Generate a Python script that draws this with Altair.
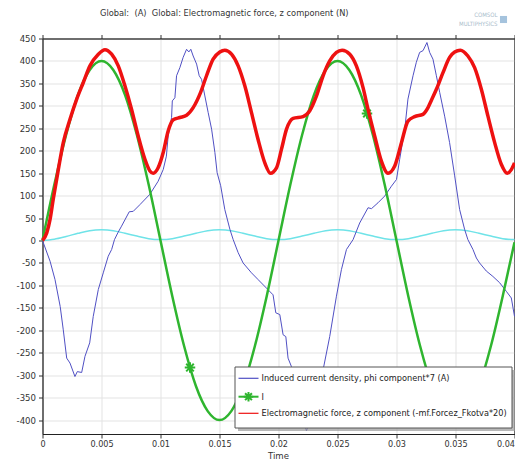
import altair as alt
import pandas as pd

# ---------------- data ----------------
x_ticks = [0, 0.005, 0.01, 0.015, 0.02, 0.025, 0.03, 0.035, 0.04]
y_ticks = [-400, -350, -300, -250, -200, -150, -100, -50, 0, 50, 100, 150,
           200, 250, 300, 350, 400, 450]

grid_t = [0, 0.001, 0.002, 0.003, 0.004, 0.005, 0.006, 0.007, 0.008, 0.009,
          0.01, 0.011, 0.012, 0.013, 0.014, 0.015, 0.016, 0.017, 0.018, 0.019,
          0.02, 0.021, 0.022, 0.023, 0.024, 0.025, 0.026, 0.027, 0.028, 0.029,
          0.03, 0.031, 0.032, 0.033, 0.034, 0.035, 0.036, 0.037, 0.038, 0.039, 0.04]

green_i = [0, 124, 235, 324, 380, 400, 380, 324, 235, 124,
           0, -124, -235, -324, -380, -400, -380, -324, -235, -124,
           0, 124, 235, 324, 380, 400, 380, 324, 235, 124,
           0, -124, -235, -324, -380, -400, -380, -324, -235, -124, -4]

cyan_v = [0, 3, 9, 16, 22, 24, 22, 16, 10, 4,
          2, 4, 10, 16, 22, 24, 22, 16, 10, 4,
          2, 4, 10, 16, 22, 24, 22, 16, 10, 4,
          2, 4, 10, 16, 22, 24, 22, 16, 10, 4, 2]

marker_t = [0.0125, 0.0275]
marker_v = [-283, 283]

blue_t = [0, 0.00064, 0.00106, 0.0015, 0.00176, 0.00205, 0.00233, 0.00275, 0.00295,
          0.00332, 0.0036, 0.004, 0.0043, 0.00473, 0.00515, 0.00557, 0.00586, 0.0061,
          0.0064, 0.0067, 0.00735, 0.00769, 0.00826, 0.0091, 0.0098, 0.01023, 0.0105,
          0.01065, 0.01094, 0.011, 0.01122, 0.01136, 0.01164, 0.01192, 0.01221, 0.0124,
          0.01257, 0.01277, 0.01306, 0.01328, 0.01348, 0.01376, 0.01404, 0.01433,
          0.01461, 0.0148, 0.0151, 0.01545, 0.01588, 0.01616, 0.01658, 0.017, 0.01771,
          0.01827, 0.01898, 0.01954, 0.01977, 0.02011, 0.02039, 0.02062, 0.02081,
          0.0211, 0.0216, 0.0221, 0.02237, 0.0227, 0.0232, 0.02378, 0.02434, 0.02491,
          0.02533, 0.02576, 0.02632, 0.02688, 0.02759, 0.02788, 0.02843, 0.029,
          0.02957, 0.03, 0.03027, 0.0307, 0.03097, 0.0314, 0.03168, 0.03196, 0.03225,
          0.03258, 0.03281, 0.03309, 0.03338, 0.03366, 0.03408, 0.0345, 0.03493,
          0.03535, 0.03577, 0.03605, 0.03648, 0.03677, 0.03704, 0.03761, 0.03817,
          0.03874, 0.0393, 0.03973, 0.04]
blue_v = [0, -46, -87, -147, -199, -262, -273, -303, -292,
          -294, -258, -228, -169, -109, -72, -35, -20, 2,
          18, 32, 64, 65, 80, 103, 132, 158, 188,
          233, 274, 311, 318, 367, 385, 408, 426, 420,
          426, 411, 393, 367, 359, 322, 285, 248,
          196, 151, 122, 69, 25, 2, -27, -50, -72,
          -87, -106, -121, -161, -165, -210, -214, -262,
          -281, -340, -400, -424, -400, -330, -288, -214, -124,
          -65, -20, 2, 39, 73, 71, 84, 99,
          121, 136, 181, 248, 315, 367, 397, 419, 423,
          441, 419, 404, 367, 330, 277, 218, 144,
          69, 25, 2, -20, -39, -50, -68, -80,
          -94, -113, -128, -169]

red_t = [0, 0.00036, 0.00064, 0.00091, 0.00134, 0.00176, 0.00233, 0.0029, 0.00346,
         0.00402, 0.00473, 0.00529, 0.00586, 0.00642, 0.00699, 0.00755, 0.00811,
         0.00868, 0.0091, 0.00938, 0.0098, 0.01023, 0.01065, 0.01108, 0.01164,
         0.01221, 0.01277, 0.0134, 0.0139, 0.01446, 0.01503, 0.01545, 0.01602,
         0.01658, 0.01715, 0.01771, 0.01827, 0.01884, 0.01932, 0.01983, 0.02025,
         0.02068, 0.02124, 0.02208, 0.02265, 0.02322, 0.02378, 0.02434, 0.02491,
         0.02539, 0.02604, 0.0266, 0.02716, 0.02759, 0.02815, 0.02872, 0.02928,
         0.02985, 0.03042, 0.03097, 0.03154, 0.03224, 0.03267, 0.03295, 0.03338,
         0.03394, 0.0345, 0.03493, 0.03541, 0.03605, 0.03662, 0.03719, 0.03775,
         0.03832, 0.03888, 0.03939, 0.03973, 0.04]
red_v = [0, 17, 47, 92, 158, 218, 270, 315, 352,
         389, 415, 425, 415, 389, 344, 292, 233,
         181, 155, 150, 162, 196, 244, 269, 274,
         279, 296, 330, 367, 404, 420, 424, 415,
         389, 344, 285, 225, 173, 150, 162, 203,
         248, 272, 276, 289, 322, 367, 400, 419,
         424, 415, 389, 341, 292, 233, 177, 150,
         166, 218, 266, 276, 281, 296, 312, 337,
         374, 408, 420, 424, 411, 385, 337, 277,
         218, 170, 150, 158, 173]

legend_labels = ["Induced current density, phi component*7 (A)",
                 "I",
                 "Electromagnetic force, z component (-mf.Forcez_Fkotva*20)"]
title_text = "Global:\u00a0\u00a0(A)\u00a0\u00a0Global: Electromagnetic force, z component (N)"
x_title = "Time"

# ---------------- styling ----------------
FONT = "DejaVu Sans Condensed, Liberation Sans Narrow, Liberation Sans"
W, H = 472, 395.5
BLUE = "#5050c4"
GREEN = "#2fb52f"
RED = "#ee1111"
CYAN = "#6fe3e8"
STAR = "M0,-1L0,1M-1,0L1,0M-0.72,-0.72L0.72,0.72M-0.72,0.72L0.72,-0.72"

xscale = alt.Scale(domain=[0, 0.04], nice=False, zero=False)
yscale = alt.Scale(domain=[-431, 450], nice=False, zero=False)

common_axis = dict(tickSize=4, tickColor="#333", domainColor="#222",
                   labelFont=FONT, labelColor="#333",
                   gridColor="#e3e3e3", title=None)

x_bottom = alt.Axis(values=x_ticks, labelExpr="'' + datum.value",
                    grid=True, labelFlush=False, labelPadding=1.5, labelFontSize=9,
                    labelAlign=alt.ExprRef(expr="datum.value >= 0.04 ? 'right' : 'center'"),
                    labelOverlap=False, **common_axis)
y_left = alt.Axis(values=y_ticks, labelExpr="'' + datum.value", labelFontSize=9.5,
                  grid=True, labelPadding=3, labelOverlap=False, **common_axis)
x_top = alt.Axis(orient="top", values=x_ticks, labels=False,
                 grid=False, **common_axis)
y_right = alt.Axis(orient="right", values=y_ticks, labels=False,
                   grid=False, **common_axis)

cyan_df = pd.DataFrame({"t": grid_t, "v": cyan_v})
green_df = pd.DataFrame({"t": grid_t, "v": green_i})
mark_df = pd.DataFrame({"t": marker_t, "v": marker_v})
blue_df = pd.DataFrame({"t": blue_t, "v": blue_v})
red_df = pd.DataFrame({"t": red_t, "v": red_v})
one = pd.DataFrame({"k": [0]})

cyan = alt.Chart(cyan_df).mark_line(color=CYAN, strokeWidth=1.5, interpolate="monotone").encode(
    x=alt.X("t:Q", scale=xscale, axis=x_bottom),
    y=alt.Y("v:Q", scale=yscale, axis=y_left))
mirror = alt.Chart(cyan_df).mark_line(opacity=0).encode(
    x=alt.X("t:Q", scale=xscale, axis=x_top),
    y=alt.Y("v:Q", scale=yscale, axis=y_right))
blue = alt.Chart(blue_df).mark_line(color=BLUE, strokeWidth=1).encode(
    x=alt.X("t:Q", scale=xscale, axis=None),
    y=alt.Y("v:Q", scale=yscale, axis=None))
green = alt.Chart(green_df).mark_line(color=GREEN, strokeWidth=2.5, interpolate="monotone").encode(
    x=alt.X("t:Q", scale=xscale, axis=None),
    y=alt.Y("v:Q", scale=yscale, axis=None))
stars = alt.Chart(mark_df).mark_point(shape=STAR, size=110, filled=False, color=GREEN,
                                      strokeWidth=2, opacity=1).encode(
    x=alt.X("t:Q", scale=xscale, axis=None),
    y=alt.Y("v:Q", scale=yscale, axis=None))
red = alt.Chart(red_df).mark_line(color=RED, strokeWidth=3.5, interpolate="monotone").encode(
    x=alt.X("t:Q", scale=xscale, axis=None),
    y=alt.Y("v:Q", scale=yscale, axis=None))

# legend box (drawn with marks)
LX0, LX1, LY0, LY1 = 192.5, 469.5, 328.5, 389.5
shadow = alt.Chart(one).mark_rect(color="#9a9a9a", opacity=0.7).encode(
    x=alt.value(LX0 + 3), x2=alt.value(LX1 + 3), y=alt.value(LY0 + 3), y2=alt.value(LY1 + 3))
box = alt.Chart(one).mark_rect(fill="white", stroke="#555", strokeWidth=1).encode(
    x=alt.value(LX0), x2=alt.value(LX1), y=alt.value(LY0), y2=alt.value(LY1))
row_y = [339.8, 358.2, 374.8]
row_col = [BLUE, GREEN, RED]
row_w = [1.2, 2, 1.2]
legend_layers = [shadow, box]
for lab, yy, col, sw in zip(legend_labels, row_y, row_col, row_w):
    legend_layers.append(alt.Chart(one).mark_rule(color=col, strokeWidth=sw).encode(
        x=alt.value(196), x2=alt.value(216), y=alt.value(yy)))
    legend_layers.append(alt.Chart(one).mark_text(align="left", baseline="middle", font=FONT,
                                                  fontSize=9.1, color="#222").encode(
        x=alt.value(219), y=alt.value(yy), text=alt.value(lab)))
legend_layers.append(alt.Chart(one).mark_point(shape=STAR, size=90, filled=False, color=GREEN,
                                               strokeWidth=2, opacity=1).encode(
    x=alt.value(206), y=alt.value(row_y[1])))

title = alt.Chart(one).mark_text(align="left", baseline="middle", font=FONT, fontSize=9.2,
                                 color="#333").encode(
    x=alt.value(57.5), y=alt.value(-25.5), text=alt.value(title_text))
xlab = alt.Chart(one).mark_text(align="center", baseline="alphabetic", font=FONT, fontSize=9.5,
                                color="#333").encode(
    x=alt.value(W / 2), y=alt.value(H + 24.5), text=alt.value(x_title))
logo1 = alt.Chart(one).mark_text(align="right", baseline="middle", font=FONT, fontSize=6,
                                 color="#a9bccb").encode(
    x=alt.value(455), y=alt.value(-23.5), text=alt.value("COMSOL"))
logo2 = alt.Chart(one).mark_text(align="right", baseline="middle", font=FONT, fontSize=6,
                                 color="#a9bccb").encode(
    x=alt.value(455), y=alt.value(-15), text=alt.value("MULTIPHYSICS"))
logo3 = alt.Chart(one).mark_point(shape="square", size=50, filled=True, color="#7fa9cf").encode(
    x=alt.value(461), y=alt.value(-19))

chart = alt.layer(cyan, mirror, blue, green, stars, red, *legend_layers,
                  title, xlab, logo1, logo2, logo3).resolve_axis(
    x="independent", y="independent").properties(
    width=W, height=H,
    autosize=alt.AutoSizeParams(type="none"),
    padding={"left": 34.5, "top": 30.5, "right": 0.5, "bottom": 26},
    background="white",
).configure_view(stroke="#222", strokeWidth=1)

chart.save("out.html", embed_options={"renderer": "svg", "actions": False})
